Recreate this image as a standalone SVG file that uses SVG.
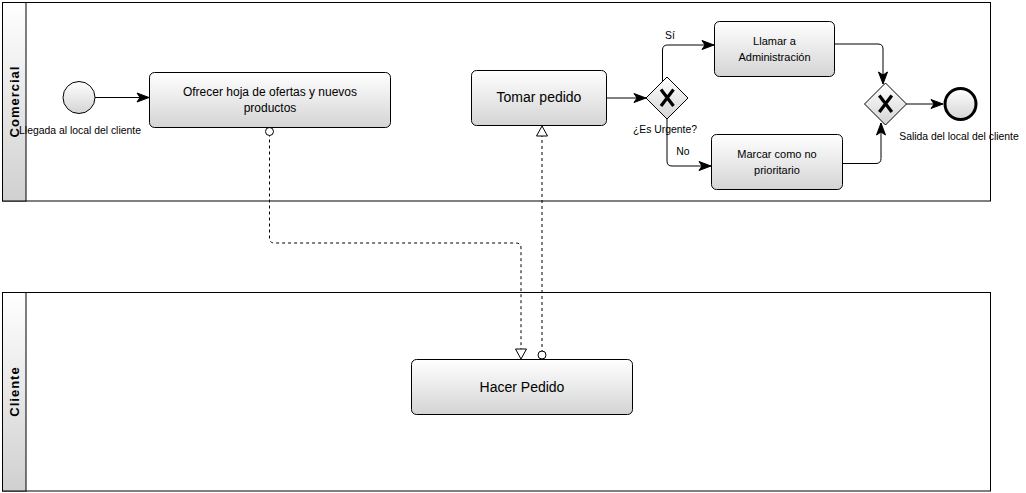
<svg xmlns="http://www.w3.org/2000/svg" width="1026" height="493" viewBox="0 0 1026 493">
<style>
text{font-family:"Liberation Sans",Arial,sans-serif;fill:#000}
.pool{fill:#fff;stroke:#000;stroke-width:1}
.hdr{fill:url(#gh);stroke:#000;stroke-width:1}
.lane{font-size:13px;font-weight:bold;letter-spacing:1px}
.task{fill:url(#gt);stroke:#000;stroke-width:1}
.flow{fill:none;stroke:#000;stroke-width:1}
.msg{fill:none;stroke:#000;stroke-width:1;stroke-dasharray:3 3}
.lbl{font-size:10.4px}
.gw{fill:url(#gt);stroke:#000;stroke-width:1}
.xm{stroke:#000;stroke-width:3.2;fill:none}
</style>
<defs>
<linearGradient id="gh" x1="0" y1="0" x2="0" y2="1"><stop offset="0" stop-color="#ffffff"/><stop offset="1" stop-color="#d0d0d0"/></linearGradient>
<linearGradient id="gt" x1="0" y1="0" x2="0" y2="1"><stop offset="0" stop-color="#ffffff"/><stop offset="1" stop-color="#d4d4d4"/></linearGradient>
<marker id="arr" markerUnits="userSpaceOnUse" markerWidth="13" markerHeight="10" refX="12" refY="4.5" orient="auto" overflow="visible"><path d="M0,0 L12,4.5 L0,9 L3,4.5 Z" fill="#000" stroke="#000" stroke-width="1"/></marker>
<marker id="tri" markerUnits="userSpaceOnUse" markerWidth="12" markerHeight="12" refX="10" refY="5.5" orient="auto" overflow="visible"><path d="M0,0 L10,5.5 L0,11 Z" fill="#fff" stroke="#000" stroke-width="1"/></marker>
<marker id="dot" markerUnits="userSpaceOnUse" markerWidth="10" markerHeight="10" refX="-4" refY="0" orient="auto" overflow="visible"><circle cx="0" cy="0" r="4" fill="#fff" stroke="#000" stroke-width="1"/></marker>
</defs>

<g id="pool-comercial">
<rect class="pool" x="2.5" y="2.5" width="988" height="198.5"/>
<rect class="hdr" x="2.5" y="2.5" width="23.5" height="198.5"/>
<text class="lane" transform="translate(18.5,101.5) rotate(-90)" text-anchor="middle">Comercial</text>
</g>
<g id="pool-cliente">
<rect class="pool" x="2.5" y="292.5" width="988" height="198.5"/>
<rect class="hdr" x="2.5" y="292.5" width="23.5" height="198.5"/>
<text class="lane" transform="translate(18.5,391.5) rotate(-90)" text-anchor="middle">Cliente</text>
</g>

<g id="connectors">
<path class="flow" d="M95,97.5 H149" marker-end="url(#arr)"/>
<path class="flow" d="M606,98 H646" marker-end="url(#arr)"/>
<path class="flow" d="M662.5,82 V50 Q662.5,45 667.5,45 H714" marker-end="url(#arr)"/>
<path class="flow" d="M667,119 V161 Q667,166 672,166 H711" marker-end="url(#arr)"/>
<path class="flow" d="M834,44 H878 Q883,44 883,49 V84" marker-end="url(#arr)"/>
<path class="flow" d="M842,163.5 H876 Q881,163.5 881,158.5 V123" marker-end="url(#arr)"/>
<path class="flow" d="M906,104 H943" marker-end="url(#arr)"/>
<path class="msg" d="M269.5,127.5 V238 Q269.5,243 274.5,243 H516 Q521,243 521,248 V359" marker-start="url(#dot)" marker-end="url(#tri)"/>
<path class="msg" d="M542,359 V126" marker-start="url(#dot)" marker-end="url(#tri)"/>
</g>

<g id="start">
<circle cx="79" cy="97.5" r="16" fill="url(#gt)" stroke="#000" stroke-width="1"/>
<text class="lbl" x="80" y="134" text-anchor="middle">Llegada al local del cliente</text>
</g>

<g id="task-ofrecer">
<rect class="task" x="149.5" y="72.5" width="241" height="55" rx="5"/>
<text x="270" y="96" font-size="12" text-anchor="middle">Ofrecer hoja de ofertas y nuevos</text>
<text x="270" y="112" font-size="12" text-anchor="middle">productos</text>
</g>

<g id="task-tomar">
<rect class="task" x="471.5" y="70.5" width="135" height="55" rx="5"/>
<text x="539" y="102" font-size="14" text-anchor="middle">Tomar pedido</text>
</g>

<g id="gw-urgente">
<path class="gw" d="M667,77 L688,98 L667,119 L646,98 Z"/>
<path class="xm" d="M661,89.5 L673.5,106 M673.5,89.5 L661,106"/>
<text class="lbl" x="665" y="133" text-anchor="middle">¿Es Urgente?</text>
<text class="lbl" x="670" y="38.5" text-anchor="middle">Sí</text>
<text class="lbl" x="683" y="155" text-anchor="middle">No</text>
</g>

<g id="task-llamar">
<rect class="task" x="714.5" y="21.5" width="120" height="55" rx="5"/>
<text x="774.5" y="45" font-size="11" text-anchor="middle">Llamar a</text>
<text x="774.5" y="60.5" font-size="11" text-anchor="middle">Administración</text>
</g>

<g id="task-marcar">
<rect class="task" x="711.5" y="134.5" width="131" height="55" rx="5"/>
<text x="777" y="158" font-size="11" text-anchor="middle">Marcar como no</text>
<text x="777" y="173.5" font-size="11" text-anchor="middle">prioritario</text>
</g>

<g id="gw-merge">
<path class="gw" d="M885.5,83 L906.5,104 L885.5,125 L864.5,104 Z"/>
<path class="xm" d="M879.3,95.5 L891.8,112 M891.8,95.5 L879.3,112"/>
</g>

<g id="end">
<circle cx="960.5" cy="104" r="15.5" fill="url(#gt)" stroke="#000" stroke-width="3"/>
<text class="lbl" x="959" y="140" text-anchor="middle">Salida del local del cliente</text>
</g>

<g id="task-hacer">
<rect class="task" x="411.5" y="359.5" width="221" height="55" rx="5"/>
<text x="522" y="391.5" font-size="14" text-anchor="middle">Hacer Pedido</text>
</g>
</svg>
